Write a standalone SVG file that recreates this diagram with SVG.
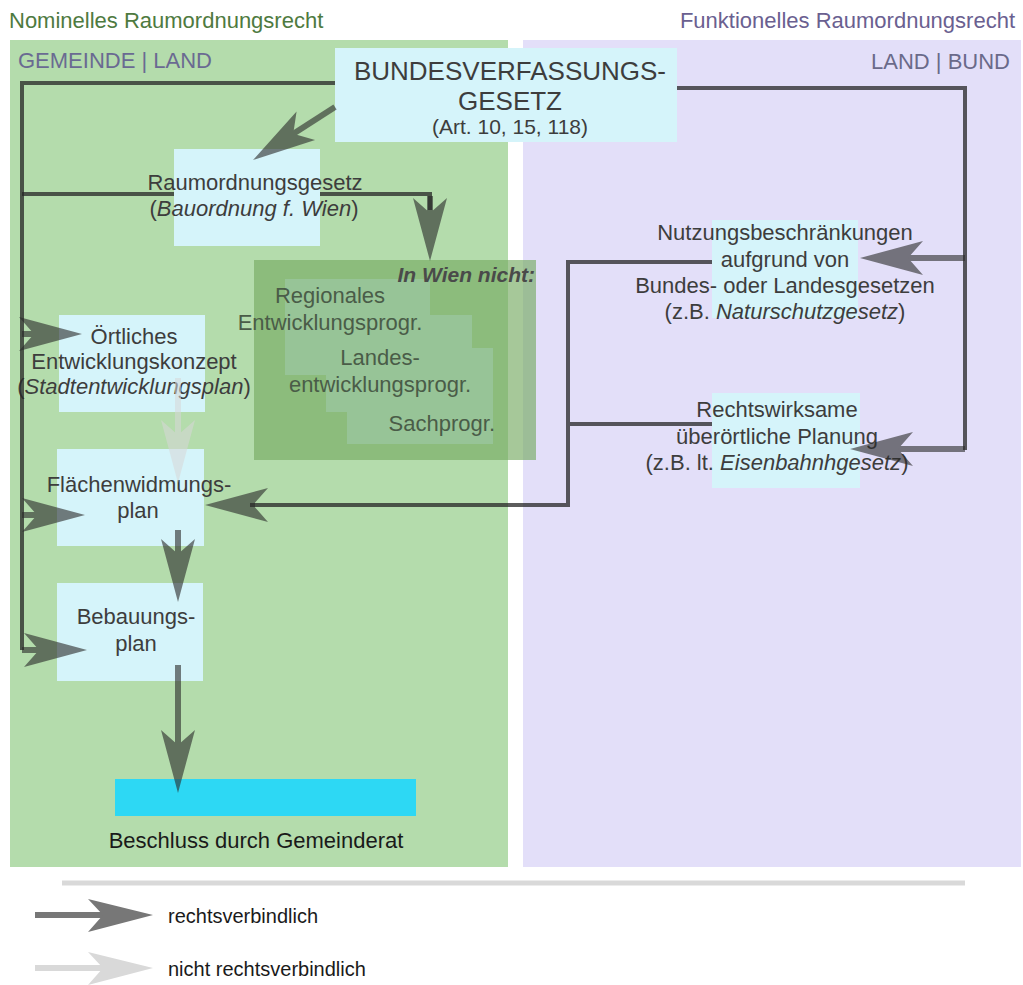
<svg xmlns="http://www.w3.org/2000/svg" xmlns:xlink="http://www.w3.org/1999/xlink" width="1023" height="985" viewBox="0 0 1023 985">
<style>
.t{font-family:"Liberation Sans",Arial,sans-serif;font-size:22px;fill:#3d3d3d;text-anchor:middle}
.i{font-style:italic}
.box{fill:#d5f4fa}
.ln{stroke:#262626;stroke-opacity:.75;stroke-width:4;fill:none}
.arr{opacity:.6}
.arr line{stroke:#2a2a2a;stroke-width:6}
.arr use{fill:#2a2a2a}
.lt{opacity:.55}
.lt line{stroke:#d8d8d8;stroke-width:6}
.lt use{fill:#d8d8d8}
.wt{font-family:"Liberation Sans",Arial,sans-serif;font-size:22px;fill:#4a5c48;text-anchor:middle}
.hd{font-family:"Liberation Sans",Arial,sans-serif;font-size:22px}
</style>
<defs>
<path id="ah" d="M0,0 L-63,-17 L-48,0 L-63,17 Z"/>
</defs>
<rect x="0" y="0" width="1023" height="985" fill="#ffffff"/>
<g id="panels">
<rect x="10" y="40" width="498" height="827" fill="#b4dcac"/>
<rect x="523" y="40" width="498" height="827" fill="#e3dff9"/>
<text class="hd" x="9" y="28" fill="#4e7a40">Nominelles Raumordnungsrecht</text>
<text class="hd" x="1015" y="28" fill="#6a6090" text-anchor="end">Funktionelles Raumordnungsrecht</text>
<text class="hd" x="18" y="68" fill="#6a6a92">GEMEINDE | LAND</text>
<text class="hd" x="1010" y="69" fill="#6a6a8a" text-anchor="end">LAND | BUND</text>
</g>
<g id="in-wien-nicht">
<rect x="285" y="279" width="145" height="96" class="box"/>
<rect x="326" y="315" width="146" height="97" class="box"/>
<rect x="347" y="348" width="146" height="96" class="box"/>
<rect x="254" y="260" width="282" height="200" fill="#76ab62" fill-opacity=".65"/>
<text x="535" y="282" font-family="Liberation Sans, Arial, sans-serif" font-size="21" font-weight="bold" font-style="italic" fill="#4a4a4a" text-anchor="end">In Wien nicht:</text>
<text class="wt" x="330" y="303">Regionales</text>
<text class="wt" x="330" y="330">Entwicklungsprogr.</text>
<text class="wt" x="380" y="365">Landes-</text>
<text class="wt" x="380" y="392">entwicklungsprogr.</text>
<text class="wt" x="495" y="431" style="text-anchor:end">Sachprogr.</text>
</g>
<g id="bvg">
<rect x="335" y="48" width="342" height="94" class="box"/>
<text class="t" x="510" y="80" style="font-size:26px">BUNDESVERFASSUNGS-</text>
<text class="t" x="510" y="110" style="font-size:26px">GESETZ</text>
<text class="t" x="510" y="134" style="font-size:21px">(Art. 10, 15, 118)</text>
</g>
<g id="raumordnungsgesetz">
<rect x="174" y="149" width="146" height="97" class="box"/>
<text class="t" x="255" y="190">Raumordnungsgesetz</text>
<text class="t" x="254" y="216">(<tspan class="i">Bauordnung f. Wien</tspan>)</text>
</g>
<g id="oertliches-entwicklungskonzept">
<rect x="59" y="315" width="146" height="97" class="box"/>
<text class="t" x="134" y="344">Örtliches</text>
<text class="t" x="134" y="369">Entwicklungskonzept</text>
<text class="t" x="134" y="394">(<tspan class="i">Stadtentwicklungsplan</tspan>)</text>
</g>
<g id="flaechenwidmungsplan">
<rect x="57" y="449" width="147" height="97" class="box"/>
<text class="t" x="139" y="492">Flächenwidmungs-</text>
<text class="t" x="138" y="518">plan</text>
</g>
<g id="bebauungsplan">
<rect x="57" y="583" width="146" height="98" class="box"/>
<text class="t" x="136" y="624">Bebauungs-</text>
<text class="t" x="136" y="651">plan</text>
</g>
<g id="beschluss">
<rect x="115" y="779" width="301" height="37" fill="#2dd8f4"/>
<text class="t" x="256" y="848" style="fill:#1a1a1a">Beschluss durch Gemeinderat</text>
</g>
<g id="nutzungsbeschraenkungen">
<rect x="712" y="220" width="146" height="98" class="box"/>
<text class="t" x="785" y="240">Nutzungsbeschränkungen</text>
<text class="t" x="785" y="267">aufgrund von</text>
<text class="t" x="785" y="293">Bundes- oder Landesgesetzen</text>
<text class="t" x="785" y="319">(z.B. <tspan class="i">Naturschutzgesetz</tspan>)</text>
</g>
<g id="rechtswirksame-planung">
<rect x="712" y="393" width="148" height="95" class="box"/>
<text class="t" x="777" y="417">Rechtswirksame</text>
<text class="t" x="777" y="444">überörtliche Planung</text>
<text class="t" x="777" y="470">(z.B. lt. <tspan class="i">Eisenbahnhgesetz</tspan>)</text>
</g>
<g id="connectors">
<path class="ln" d="M335,83 H22 V650"/>
<path class="ln" d="M22,194 H174 M320,194 H430 V210"/>
<path class="ln" d="M677,88 H965 V450"/>
<path class="ln" d="M712,262 H568 V505 H250 M712,424 H568"/>
<g class="arr"><line x1="335" y1="107" x2="293" y2="134"/><use xlink:href="#ah" transform="translate(253,160) rotate(147)"/></g>
<g class="arr"><line x1="430" y1="196" x2="430" y2="214"/><use xlink:href="#ah" transform="translate(430,261) rotate(90)"/></g>
<g class="arr"><line x1="22" y1="334" x2="34" y2="334"/><use xlink:href="#ah" transform="translate(82,334) rotate(0)"/></g>
<g class="arr"><line x1="22" y1="515" x2="37" y2="515"/><use xlink:href="#ah" transform="translate(85,515) rotate(0)"/></g>
<g class="arr"><line x1="22" y1="650" x2="39" y2="650"/><use xlink:href="#ah" transform="translate(87,650) rotate(0)"/></g>
<g class="arr"><line x1="178" y1="530" x2="178" y2="556"/><use xlink:href="#ah" transform="translate(178,602) rotate(90)"/></g>
<g class="arr"><line x1="178" y1="665" x2="178" y2="747"/><use xlink:href="#ah" transform="translate(178,793) rotate(90)"/></g>
<g class="arr"><line x1="965" y1="258" x2="906" y2="258"/><use xlink:href="#ah" transform="translate(860,258) rotate(180)"/></g>
<g class="arr"><line x1="965" y1="449" x2="896" y2="449"/><use xlink:href="#ah" transform="translate(850,449) rotate(180)"/></g>
<g class="arr"><line x1="255" y1="505" x2="250" y2="505"/><use xlink:href="#ah" transform="translate(205,505) rotate(180)"/></g>
<g class="lt"><line x1="178" y1="378" x2="178" y2="437"/><use xlink:href="#ah" transform="translate(178,483) rotate(90)"/></g>
</g>
<g id="legend">
<line x1="62" y1="883" x2="965" y2="883" stroke="#d9d9d9" stroke-width="5"/>
<rect x="35" y="912" width="70" height="6" fill="#777777"/>
<path d="M153,915 L88,899 L103,915 L88,932 Z" fill="#777777"/>
<text x="168" y="923" font-family="Liberation Sans, Arial, sans-serif" font-size="20" fill="#1a1a1a">rechtsverbindlich</text>
<rect x="35" y="965" width="70" height="6" fill="#d9d9d9"/>
<path d="M153,968 L88,952 L103,968 L88,985 Z" fill="#d9d9d9"/>
<text x="168" y="976" font-family="Liberation Sans, Arial, sans-serif" font-size="20" fill="#1a1a1a">nicht rechtsverbindlich</text>
</g>
</svg>
